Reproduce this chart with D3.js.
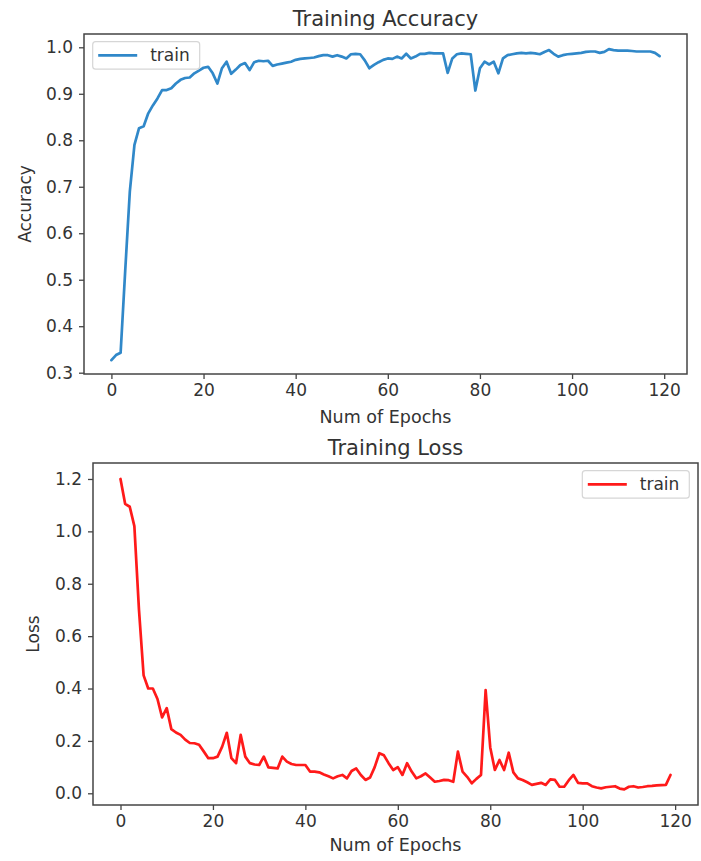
<!DOCTYPE html>
<html>
<head>
<meta charset="utf-8">
<script src="https://cdn.jsdelivr.net/npm/d3@7"></script>
<style>
  html, body { margin: 0; padding: 0; background: #fff; }
  svg { display: block; }
  text { font-family: "DejaVu Sans", sans-serif; fill: #333; }
</style>
</head>
<body>
<svg id="chart" width="701" height="861"></svg>
<script>
const epochs = d3.range(0, 120);

const accuracy = [
  0.327, 0.338, 0.343, 0.52, 0.69, 0.79, 0.826, 0.83, 0.858, 0.875,
  0.89, 0.908, 0.908, 0.912, 0.922, 0.93, 0.934, 0.935, 0.944, 0.95,
  0.956, 0.958, 0.944, 0.922, 0.955, 0.969, 0.943, 0.952, 0.962, 0.966,
  0.951, 0.968, 0.971, 0.97, 0.971, 0.96, 0.963, 0.965, 0.967, 0.969,
  0.973, 0.975, 0.976, 0.977, 0.978, 0.981, 0.983, 0.983, 0.98, 0.983,
  0.98, 0.976, 0.985, 0.986, 0.985, 0.972, 0.955, 0.962, 0.968, 0.973,
  0.976, 0.975, 0.98, 0.976, 0.986, 0.976, 0.98, 0.986, 0.986, 0.988,
  0.987, 0.987, 0.987, 0.945, 0.976, 0.985, 0.987, 0.986, 0.985, 0.907,
  0.955, 0.969, 0.963, 0.969, 0.944, 0.976, 0.983, 0.985, 0.987, 0.988,
  0.987, 0.988, 0.987, 0.985, 0.99, 0.994, 0.986, 0.98, 0.983, 0.985,
  0.986, 0.987, 0.988, 0.99, 0.991, 0.991, 0.988, 0.99, 0.996, 0.994,
  0.993, 0.993, 0.993, 0.992, 0.991, 0.991, 0.991, 0.991, 0.988, 0.981
];

const loss = [
  1.2, 1.105, 1.094, 1.02, 0.70, 0.45, 0.40, 0.40, 0.36, 0.29,
  0.325, 0.245, 0.232, 0.223, 0.205, 0.192, 0.191, 0.185, 0.16, 0.134,
  0.134, 0.14, 0.178, 0.231, 0.134, 0.115, 0.223, 0.14, 0.115, 0.11,
  0.108, 0.14, 0.099, 0.097, 0.095, 0.14, 0.121, 0.112, 0.108, 0.108,
  0.108, 0.083, 0.083, 0.08, 0.072, 0.065, 0.057, 0.065, 0.07, 0.057,
  0.085, 0.095, 0.07, 0.051, 0.06, 0.1, 0.153, 0.145, 0.115, 0.089,
  0.1, 0.07, 0.115, 0.083, 0.057, 0.065, 0.076, 0.06, 0.044, 0.047,
  0.051, 0.05, 0.044, 0.159, 0.083, 0.063, 0.038, 0.055, 0.07, 0.394,
  0.175, 0.089, 0.127, 0.089, 0.155, 0.08, 0.057, 0.051, 0.042, 0.032,
  0.036, 0.04, 0.032, 0.053, 0.051, 0.025, 0.025, 0.05, 0.07, 0.04,
  0.038, 0.038, 0.027, 0.022, 0.019, 0.023, 0.025, 0.027, 0.018, 0.015,
  0.025, 0.027, 0.022, 0.024, 0.027, 0.028, 0.03, 0.031, 0.032, 0.07
];

const xTicks = [0, 20, 40, 60, 80, 100, 120];
const accTicks = [0.3, 0.4, 0.5, 0.6, 0.7, 0.8, 0.9, 1.0];
const lossTicks = [0.0, 0.2, 0.4, 0.6, 0.8, 1.0, 1.2];

const svg = d3.select("#chart");

function panel(cfg) {
  const { left, right, top, bottom, values, yDomain, yTicks, color,
          title, titleY, yLabel, yLabelX, xLabelY, legendRight } = cfg;
  const x = d3.scaleLinear().domain([-5.95, 124.95]).range([left, right]);
  const y = d3.scaleLinear().domain(yDomain).range([bottom, top]);
  const g = svg.append("g");

  const line = d3.line().x((d, i) => x(epochs[i])).y(d => y(d));
  g.append("path").datum(values)
    .attr("fill", "none").attr("stroke", color).attr("stroke-width", 2.7)
    .attr("stroke-linejoin", "round").attr("stroke-linecap", "round")
    .attr("d", line);

  const xAxis = d3.axisBottom(x).tickValues(xTicks).tickFormat(d3.format("d"))
    .tickSize(5).tickPadding(5);
  const yAxis = d3.axisLeft(y).tickValues(yTicks).tickFormat(d3.format(".1f"))
    .tickSize(5).tickPadding(6);
  const gx = g.append("g").attr("transform", `translate(0,${bottom})`).call(xAxis);
  const gy = g.append("g").attr("transform", `translate(${left},0)`).call(yAxis);
  [gx, gy].forEach(a => {
    a.select(".domain").remove();
    a.selectAll(".tick line").attr("stroke", "#444").attr("stroke-width", 1.3);
    a.selectAll(".tick text").attr("font-size", 17).attr("fill", "#333")
      .style("font-family", "DejaVu Sans");
  });

  g.append("rect").attr("x", left).attr("y", top)
    .attr("width", right - left).attr("height", bottom - top)
    .attr("fill", "none").attr("stroke", "#444").attr("stroke-width", 1.5);

  g.append("text").attr("x", (left + right) / 2).attr("y", titleY)
    .attr("text-anchor", "middle").attr("dominant-baseline", "central")
    .attr("font-size", 21).text(title);
  g.append("text").attr("x", (left + right) / 2).attr("y", xLabelY)
    .attr("text-anchor", "middle").attr("dominant-baseline", "central")
    .attr("font-size", 17.5).text("Num of Epochs");
  g.append("text")
    .attr("transform", `translate(${yLabelX},${(top + bottom) / 2}) rotate(-90)`)
    .attr("text-anchor", "middle").attr("dominant-baseline", "central")
    .attr("font-size", 17).text(yLabel);

  const lw = 107, lh = 27.5;
  const lx = legendRight ? right - 8.7 - lw : left + 8.7;
  const ly = top + 7.7;
  const lg = g.append("g");
  lg.append("rect").attr("x", lx).attr("y", ly).attr("width", lw).attr("height", lh)
    .attr("rx", 3).attr("fill", "#fff").attr("fill-opacity", 0.8)
    .attr("stroke", "#d6d6d6").attr("stroke-width", 1.2);
  lg.append("line").attr("x1", lx + 5.5).attr("x2", lx + 44.5)
    .attr("y1", ly + lh / 2).attr("y2", ly + lh / 2)
    .attr("stroke", color).attr("stroke-width", 2.7);
  lg.append("text").attr("x", lx + 57.5).attr("y", ly + lh / 2)
    .attr("dominant-baseline", "central").attr("font-size", 17).text("train");
}

panel({
  left: 84, right: 687, top: 34, bottom: 374,
  values: accuracy, yDomain: [0.2972, 1.0286], yTicks: accTicks,
  color: "#3088c9", title: "Training Accuracy", titleY: 19,
  yLabel: "Accuracy", yLabelX: 25, xLabelY: 417, legendRight: false
});

panel({
  left: 93, right: 698, top: 463, bottom: 805,
  values: loss, yDomain: [-0.0447, 1.261], yTicks: lossTicks,
  color: "#ff1a1a", title: "Training Loss", titleY: 448,
  yLabel: "Loss", yLabelX: 33, xLabelY: 845, legendRight: true
});
</script>
</body>
</html>
